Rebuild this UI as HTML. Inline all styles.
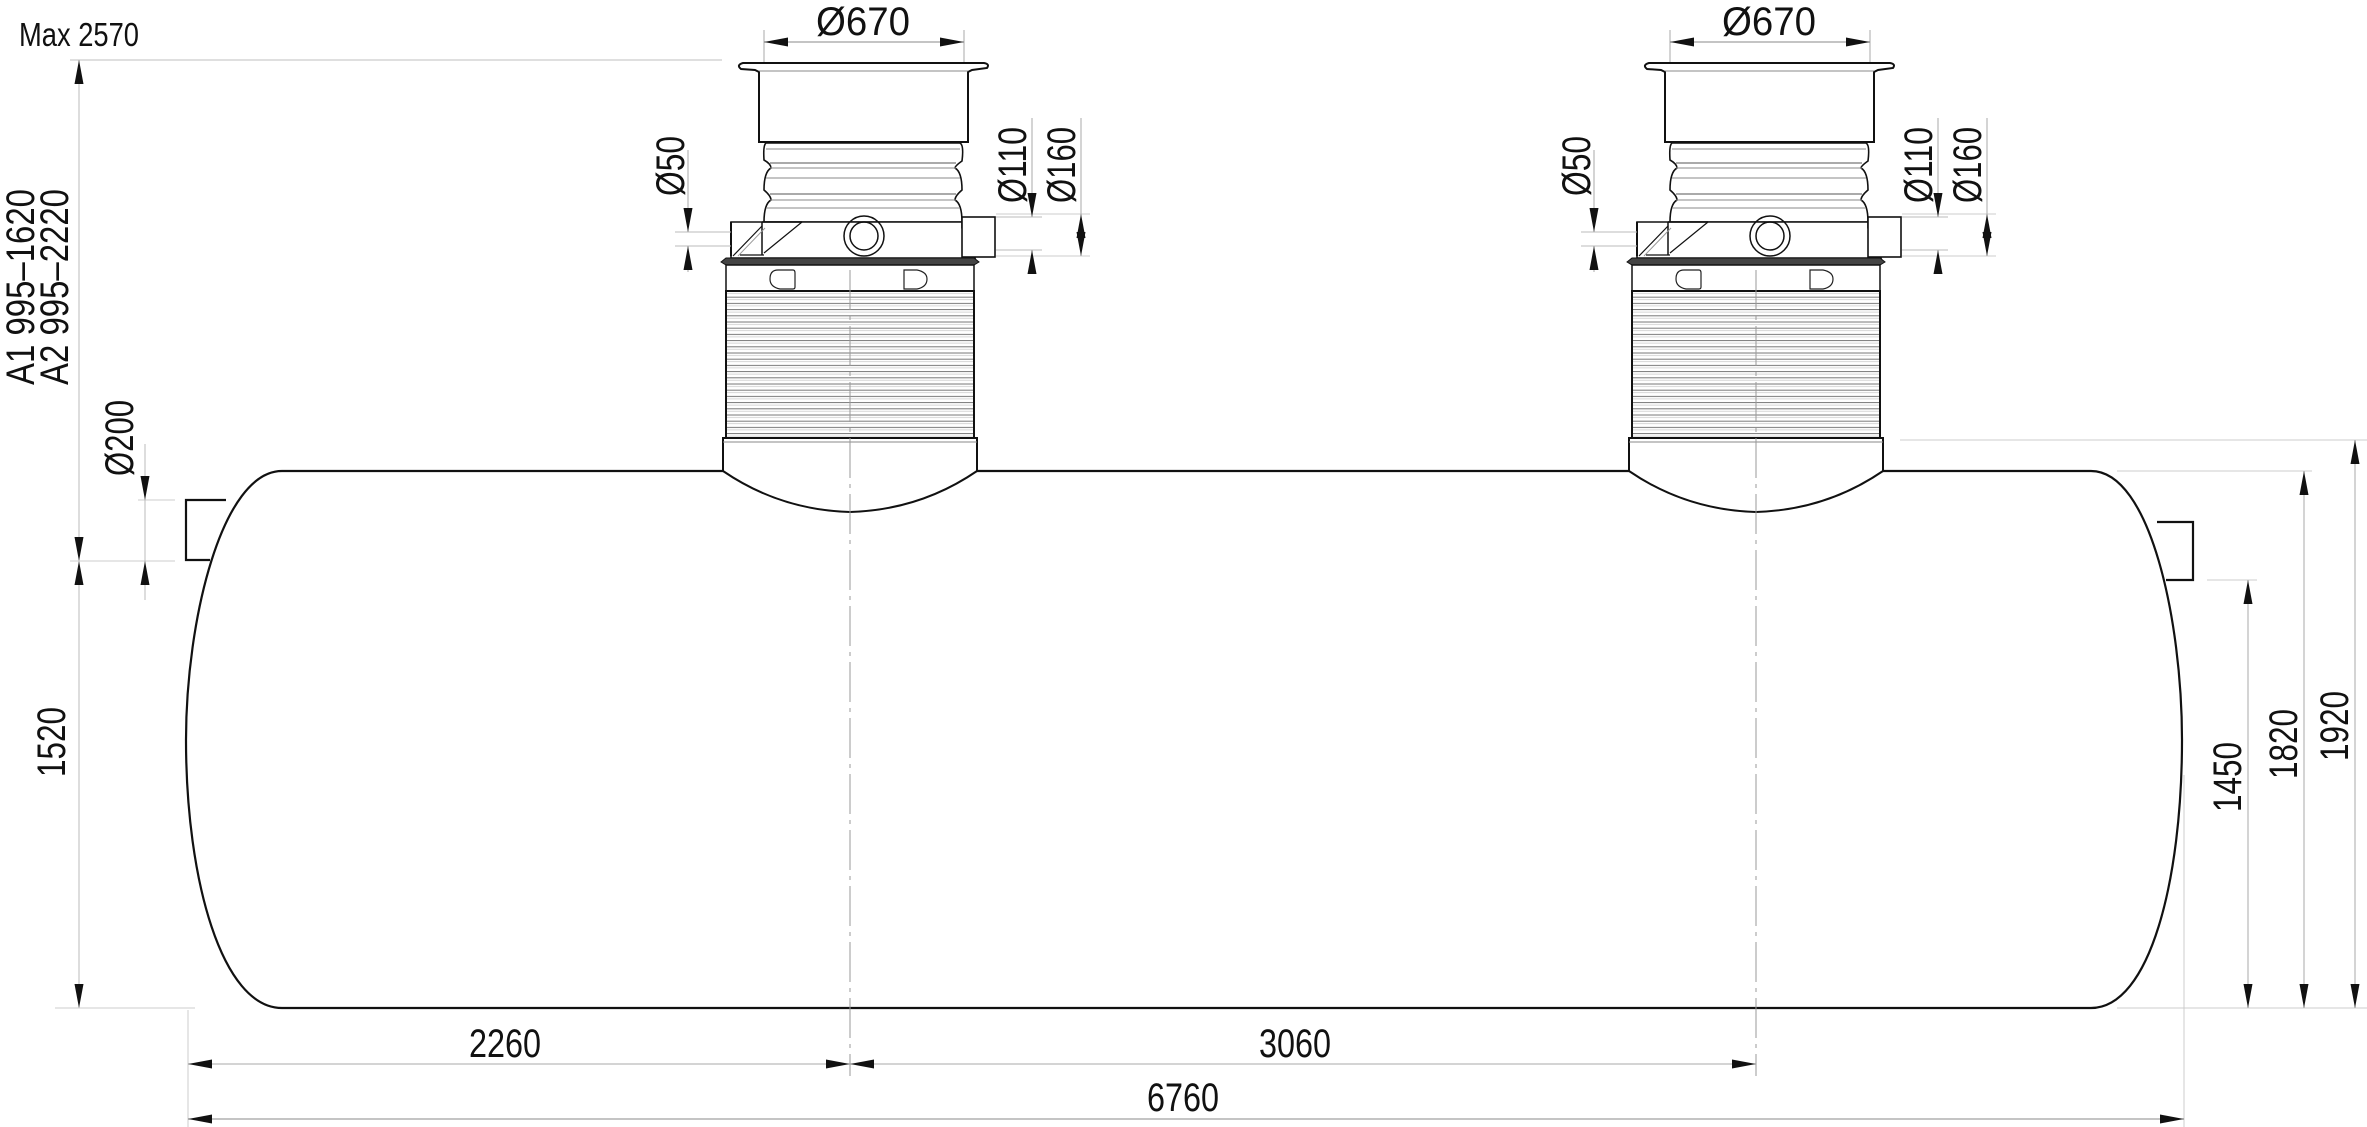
<!DOCTYPE html>
<html><head><meta charset="utf-8"><style>
html,body{margin:0;padding:0;background:#fff;}
svg{display:block;}
text{font-family:"Liberation Sans Narrow","Liberation Sans",sans-serif;fill:#111;}
</style></head><body>
<svg width="2367" height="1127" viewBox="0 0 2367 1127" xmlns="http://www.w3.org/2000/svg">
<defs>
<marker id="ar" markerUnits="userSpaceOnUse" markerWidth="24" markerHeight="9" viewBox="0 0 24 9" refX="24" refY="4.5" orient="auto-start-reverse">
<path d="M0,0 L24,4.5 L0,9 z" fill="#111"/></marker>
<pattern id="corr" patternUnits="userSpaceOnUse" width="10" height="6.2" x="0" y="290">
<line x1="0" y1="1" x2="10" y2="1" stroke="#777" stroke-width="1"/>
<line x1="0" y1="3.5" x2="10" y2="3.5" stroke="#ccc" stroke-width="0.8"/>
</pattern>
<g id="tur">
 <line x1="-86" y1="30" x2="-86" y2="64" stroke="#aaa" stroke-width="1"/>
 <line x1="114" y1="30" x2="114" y2="64" stroke="#aaa" stroke-width="1"/>
 <line x1="-86" y1="42" x2="114" y2="42" stroke="#888" stroke-width="1" marker-start="url(#ar)" marker-end="url(#ar)"/>
 <text x="13" y="35" font-size="40" text-anchor="middle" textLength="94" lengthAdjust="spacingAndGlyphs">Ø670</text>
 <path d="M-107,63 L134,63 Q140,64 137,68 L122,70 L118,72 L118,142 L-91,142 L-91,72 L-95,70 L-109,69 Q-114,65 -107,63 z" fill="#fff" stroke="#111" stroke-width="2"/>
 <line x1="-91" y1="71" x2="118" y2="71" stroke="#888" stroke-width="1"/>
 <path d="M-84,143 L110,143 Q114,145 112,161 Q105,166 105,168 Q112,172 112,190 Q105,196 105,200 Q112,204 112,222 L-86,222 Q-86,204 -79,200 Q-79,196 -86,190 Q-86,172 -79,168 Q-79,164 -86,160 Q-87,145 -84,143 z" fill="#fff" stroke="#111" stroke-width="1.6"/>
 <line x1="-84" y1="149" x2="110" y2="149" stroke="#888" stroke-width="1"/>
 <line x1="-80" y1="163" x2="106" y2="163" stroke="#555" stroke-width="1"/>
 <line x1="-80" y1="168" x2="106" y2="168" stroke="#888" stroke-width="1"/>
 <line x1="-84" y1="178" x2="110" y2="178" stroke="#888" stroke-width="1"/>
 <line x1="-80" y1="194" x2="106" y2="194" stroke="#555" stroke-width="1"/>
 <line x1="-80" y1="200" x2="106" y2="200" stroke="#888" stroke-width="1"/>
 <line x1="-84" y1="208" x2="110" y2="208" stroke="#888" stroke-width="1"/>
 <path d="M-86,222 L112,222 L112,228 L125,258 L-119,258 L-119,222 L-86,222 z" fill="#fff" stroke="#111" stroke-width="1.6"/>
 <line x1="-119" y1="222" x2="-119" y2="256" stroke="#111" stroke-width="2"/>
 <line x1="-88" y1="222" x2="-88" y2="255" stroke="#111" stroke-width="1.5"/>
 <line x1="-88" y1="222" x2="-48" y2="222" stroke="#111" stroke-width="1.5"/>
 <line x1="-48" y1="222" x2="-86" y2="253" stroke="#111" stroke-width="1.2"/>
 <line x1="-88" y1="226" x2="-117" y2="256" stroke="#111" stroke-width="1.2"/>
 <line x1="-85" y1="228" x2="-112" y2="256" stroke="#999" stroke-width="1"/>
 <line x1="-110" y1="255" x2="-86" y2="255" stroke="#111" stroke-width="1.2"/>
 <rect x="112" y="217" width="33" height="40" fill="#fff" stroke="#111" stroke-width="1.6"/>
 <circle cx="14" cy="236" r="20" fill="none" stroke="#111" stroke-width="1.5"/>
 <circle cx="14" cy="236" r="14" fill="none" stroke="#111" stroke-width="1.5"/>
 <path d="M-129,262 L-124,258 L124,258 L129,262 L124,265 L-124,265 z" fill="#444" stroke="#111" stroke-width="1"/>
 <rect x="-124" y="265" width="248" height="26" fill="#fff" stroke="#111" stroke-width="1.5"/>
 <path d="M-72,270 L-57,270 Q-55,270 -55,273 L-55,287 Q-55,289 -57,289 L-70,289 Q-80,287 -80,279 Q-80,270 -72,270 z" fill="none" stroke="#222" stroke-width="1.2"/>
 <path d="M54,270 L67,270 Q77,272 77,279 Q77,287 67,289 L54,289 z" fill="none" stroke="#222" stroke-width="1.2"/>
 <rect x="-124" y="291" width="248" height="147" fill="url(#corr)" stroke="#111" stroke-width="2"/>
 <path d="M-127,438 L127,438 L127,471 Q70,510 0,512 Q-70,510 -127,471 z" fill="#fff" stroke="#111" stroke-width="2"/>
 <line x1="-127" y1="442" x2="127" y2="442" stroke="#888" stroke-width="1"/>
 <line x1="0" y1="270" x2="0" y2="1076" stroke="#999" stroke-width="1" stroke-dasharray="40,6,4,6"/>
 <line x1="-175" y1="232" x2="-119" y2="232" stroke="#bbb" stroke-width="1"/>
 <line x1="-175" y1="246" x2="-119" y2="246" stroke="#bbb" stroke-width="1"/>
 <line x1="-162" y1="150" x2="-162" y2="232" stroke="#aaa" stroke-width="1" marker-end="url(#ar)"/>
 <line x1="-162" y1="272" x2="-162" y2="246" stroke="#aaa" stroke-width="1" marker-end="url(#ar)"/>
 <text transform="translate(-166,166) rotate(-90)" font-size="40" text-anchor="middle" textLength="60" lengthAdjust="spacingAndGlyphs">Ø50</text>
 <line x1="146" y1="217" x2="192" y2="217" stroke="#bbb" stroke-width="1"/>
 <line x1="146" y1="250" x2="192" y2="250" stroke="#bbb" stroke-width="1"/>
 <line x1="146" y1="214" x2="240" y2="214" stroke="#ccc" stroke-width="1"/>
 <line x1="146" y1="256" x2="240" y2="256" stroke="#ccc" stroke-width="1"/>
 <line x1="182" y1="118" x2="182" y2="217" stroke="#aaa" stroke-width="1" marker-end="url(#ar)"/>
 <line x1="182" y1="268" x2="182" y2="250" stroke="#aaa" stroke-width="1" marker-end="url(#ar)"/>
 <line x1="231" y1="118" x2="231" y2="214" stroke="#aaa" stroke-width="1"/>
 <line x1="231" y1="235" x2="231" y2="214" stroke="#aaa" stroke-width="1" marker-end="url(#ar)"/>
 <line x1="231" y1="235" x2="231" y2="256" stroke="#aaa" stroke-width="1" marker-end="url(#ar)"/>
 <text transform="translate(176,165) rotate(-90)" font-size="40" text-anchor="middle" textLength="76" lengthAdjust="spacingAndGlyphs">Ø110</text>
 <text transform="translate(225,165) rotate(-90)" font-size="40" text-anchor="middle" textLength="76" lengthAdjust="spacingAndGlyphs">Ø160</text>
</g>
</defs>

<path d="M282,471 L2091,471 C2150,471 2182,620 2182,740 C2182,880 2150,1008 2091,1008 L282,1008 C222,1008 186,880 186,740 C186,620 222,471 282,471 z" fill="#fff" stroke="#111" stroke-width="2.2"/>
<path d="M226,500 L186,500 L186,560 L210,560" fill="none" stroke="#111" stroke-width="2.2"/>
<path d="M2157,522 L2193,522 L2193,580 L2166,580" fill="none" stroke="#111" stroke-width="2.2"/>

<use href="#tur" x="850" y="0"/>
<use href="#tur" x="1756" y="0"/>

<text x="19" y="46" font-size="33" textLength="120" lengthAdjust="spacingAndGlyphs">Max 2570</text>
<line x1="70" y1="60" x2="722" y2="60" stroke="#ccc" stroke-width="1.2"/>
<line x1="79" y1="60" x2="79" y2="1008" stroke="#bbb" stroke-width="1"/>
<path d="M79,60 l-4.5,24 l9,0 z" fill="#111"/>
<path d="M79,561 l-4.5,-24 l9,0 z" fill="#111"/>
<path d="M79,561 l-4.5,24 l9,0 z" fill="#111"/>
<path d="M79,1008 l-4.5,-24 l9,0 z" fill="#111"/>
<line x1="70" y1="561" x2="175" y2="561" stroke="#ccc" stroke-width="1"/>
<line x1="138" y1="500" x2="175" y2="500" stroke="#ccc" stroke-width="1"/>
<line x1="145" y1="444" x2="145" y2="600" stroke="#bbb" stroke-width="1"/>
<path d="M145,500 l-4.5,-24 l9,0 z" fill="#111"/>
<path d="M145,561 l-4.5,24 l9,0 z" fill="#111"/>
<line x1="55" y1="1008" x2="195" y2="1008" stroke="#ccc" stroke-width="1"/>
<text transform="translate(34,287) rotate(-90)" font-size="40" text-anchor="middle" textLength="196" lengthAdjust="spacingAndGlyphs">A1  995–1620</text>
<text transform="translate(68,287) rotate(-90)" font-size="40" text-anchor="middle" textLength="196" lengthAdjust="spacingAndGlyphs">A2  995–2220</text>
<text transform="translate(133,438) rotate(-90)" font-size="40" text-anchor="middle" textLength="76" lengthAdjust="spacingAndGlyphs">Ø200</text>
<text transform="translate(65,742) rotate(-90)" font-size="40" text-anchor="middle" textLength="70" lengthAdjust="spacingAndGlyphs">1520</text>

<line x1="1900" y1="440" x2="2367" y2="440" stroke="#ccc" stroke-width="1"/>
<line x1="2117" y1="471" x2="2312" y2="471" stroke="#ccc" stroke-width="1"/>
<line x1="2207" y1="580" x2="2257" y2="580" stroke="#ccc" stroke-width="1"/>
<line x1="2117" y1="1008" x2="2367" y2="1008" stroke="#ccc" stroke-width="1"/>
<line x1="2248" y1="580" x2="2248" y2="1008" stroke="#aaa" stroke-width="1" marker-start="url(#ar)" marker-end="url(#ar)"/>
<line x1="2304" y1="471" x2="2304" y2="1008" stroke="#aaa" stroke-width="1" marker-start="url(#ar)" marker-end="url(#ar)"/>
<line x1="2355" y1="440" x2="2355" y2="1008" stroke="#aaa" stroke-width="1" marker-start="url(#ar)" marker-end="url(#ar)"/>
<text transform="translate(2241,777) rotate(-90)" font-size="40" text-anchor="middle" textLength="70" lengthAdjust="spacingAndGlyphs">1450</text>
<text transform="translate(2297,744) rotate(-90)" font-size="40" text-anchor="middle" textLength="70" lengthAdjust="spacingAndGlyphs">1820</text>
<text transform="translate(2348,726) rotate(-90)" font-size="40" text-anchor="middle" textLength="70" lengthAdjust="spacingAndGlyphs">1920</text>

<line x1="188" y1="1010" x2="188" y2="1127" stroke="#ccc" stroke-width="1"/>
<line x1="2184" y1="775" x2="2184" y2="1127" stroke="#ccc" stroke-width="1"/>
<line x1="188" y1="1064" x2="850" y2="1064" stroke="#aaa" stroke-width="1" marker-start="url(#ar)" marker-end="url(#ar)"/>
<line x1="850" y1="1064" x2="1756" y2="1064" stroke="#aaa" stroke-width="1" marker-start="url(#ar)" marker-end="url(#ar)"/>
<line x1="188" y1="1119" x2="2184" y2="1119" stroke="#888" stroke-width="1" marker-start="url(#ar)" marker-end="url(#ar)"/>
<text x="505" y="1057" font-size="40" text-anchor="middle" textLength="72" lengthAdjust="spacingAndGlyphs">2260</text>
<text x="1295" y="1057" font-size="40" text-anchor="middle" textLength="72" lengthAdjust="spacingAndGlyphs">3060</text>
<text x="1183" y="1111" font-size="40" text-anchor="middle" textLength="72" lengthAdjust="spacingAndGlyphs">6760</text>
</svg>
</body></html>
